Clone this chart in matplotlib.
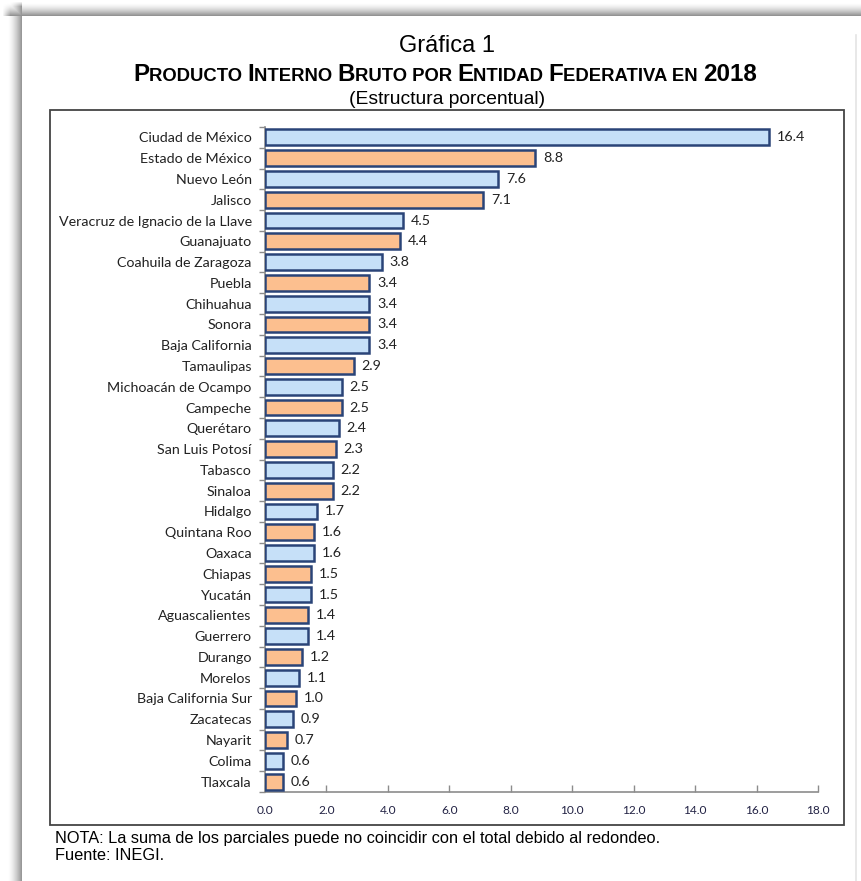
import numpy as np
import matplotlib
matplotlib.use("Agg")
from matplotlib import pyplot as plt
from matplotlib.patches import Rectangle

entidades = ['Ciudad de México', 'Estado de México', 'Nuevo León', 'Jalisco',
	'Veracruz de Ignacio de la Llave', 'Guanajuato', 'Coahuila de Zaragoza',
	'Puebla', 'Chihuahua', 'Sonora', 'Baja California', 'Tamaulipas',
	'Michoacán de Ocampo', 'Campeche', 'Querétaro', 'San Luis Potosí',
	'Tabasco', 'Sinaloa', 'Hidalgo', 'Quintana Roo', 'Oaxaca', 'Chiapas',
	'Yucatán', 'Aguascalientes', 'Guerrero', 'Durango', 'Morelos',
	'Baja California Sur', 'Zacatecas', 'Nayarit', 'Colima', 'Tlaxcala']
pib = [16.4, 8.8, 7.6, 7.1, 4.5, 4.4, 3.8, 3.4, 3.4, 3.4, 3.4, 2.9, 2.5, 2.5,
	2.4, 2.3, 2.2, 2.2, 1.7, 1.6, 1.6, 1.5, 1.5, 1.4, 1.4, 1.2, 1.1, 1.0, 0.9,
	0.7, 0.6, 0.6]
xticks = [0, 2, 4, 6, 8, 10, 12, 14, 16, 18]

W, H = 861, 881
fig = plt.figure(figsize=(W / 100, H / 100), dpi=100)

# page shadow in the background (top and left)
rows = np.arange(H)[:, None] * np.ones((1, W))
cols = np.ones((H, 1)) * np.arange(W)[None, :]
top = np.clip((rows - 2) / 13.5, 0, 1) ** 1.6
left = np.clip((cols - 7) / 15.0, 0, 1) ** 1.6
top[rows >= 16] = 0
left[cols >= 22] = 0
top[cols < 10] *= np.clip((cols[cols < 10] - 2) / 8.0, 0, 1)
left[rows < 6] *= np.clip((rows[rows < 6] - 1) / 5.0, 0, 1)
shade = 1 - 0.45 * np.maximum(top, left)
bgax = fig.add_axes([0, 0, 1, 1], zorder=-5)
bgax.imshow(shade, cmap='gray', vmin=0, vmax=1, aspect='auto', interpolation='bilinear')
bgax.axis('off')
fig.add_artist(plt.Line2D([856 / W, 856 / W], [0, 1 - 35 / H], color='#e4e4e4', lw=1.2))

# chart frame
fig.add_artist(Rectangle((50 / W, 1 - 825 / H), 794 / W, 715 / H, fill=False,
	ec='#444444', lw=1.3, transform=fig.transFigure))

ax = fig.add_axes([265 / W, 1 - 792 / H, 553 / W, 665 / H])
y = np.arange(len(entidades))
colors = ['#c6e0f8' if i % 2 == 0 else '#fcbf8f' for i in y]
ax.barh(y, pib, height=0.76, color=colors, edgecolor='#2a4478', lw=1.8, zorder=3)

lab_font = 'Lato'
for yi, v in zip(y, pib):
	ax.annotate(f'{v:.1f}', (v, yi), xytext=(5.5, 0), textcoords='offset points',
		va='center', ha='left', fontsize=10.3, family=lab_font, color='#222222')

ax.set_ylim(len(entidades) - 0.5, -0.5)
ax.set_xlim(0, 18)
ax.set_yticks(y)
ax.set_yticklabels(entidades, fontsize=10.3, family=lab_font, color='#222222')
ax.set_yticks(np.arange(len(entidades) + 1) - 0.5, minor=True)
ax.tick_params(axis='y', which='major', length=0, pad=9.5)
ax.tick_params(axis='y', which='minor', length=4, color='#8c8c8c', width=1)
ax.set_xticks(xticks)
ax.set_xticklabels([f'{t:.1f}' for t in xticks], fontsize=8.6, family=lab_font, color='#222244')
ax.tick_params(axis='x', direction='in', length=5, color='#8c8c8c', width=1, pad=9)
for s in ['top', 'right']:
	ax.spines[s].set_visible(False)
for s in ['left', 'bottom']:
	ax.spines[s].set_color('#8c8c8c')
	ax.spines[s].set_linewidth(1.2)
ax.set_facecolor('none')

narrow = ['Liberation Sans Narrow', 'Liberation Sans', 'DejaVu Sans']
xc = 447
fig.text(xc / W, 1 - 46 / H, 'Gráfica 1', ha='center', va='center', fontsize=17, family=narrow)
fig.text(xc / W, 1 - 99 / H, '(Estructura porcentual)', ha='center', va='center',
	fontsize=13.9, family=narrow)

# small caps title built from pieces
pieces = [('P', 17.4), ('RODUCTO ', 13.3), ('I', 17.4), ('NTERNO ', 13.3), ('B', 17.4),
	('RUTO POR ', 13.3), ('E', 17.4), ('NTIDAD ', 13.3), ('F', 17.4),
	('EDERATIVA EN ', 13.3), ('2018', 17.4)]
texts = [fig.text(0, 1 - 81 / H, s, fontsize=fs, family=narrow, weight='bold',
	va='baseline', ha='left') for s, fs in pieces]
fig.canvas.draw()
r = fig.canvas.get_renderer()
widths = [t.get_window_extent(r).width for t in texts]
x0 = xc - sum(widths) / 2 - 2
for t, w in zip(texts, widths):
	t.set_x(x0 / W)
	x0 += w

fig.text(55 / W, 1 - 838 / H,
	'NOTA: La suma de los parciales puede no coincidir con el total debido al redondeo.',
	ha='left', va='center', fontsize=11.8, family=narrow)
fig.text(55 / W, 1 - 856 / H, 'Fuente: INEGI.', ha='left', va='center',
	fontsize=11.8, family=narrow)

fig.savefig('out.png', dpi=100)
